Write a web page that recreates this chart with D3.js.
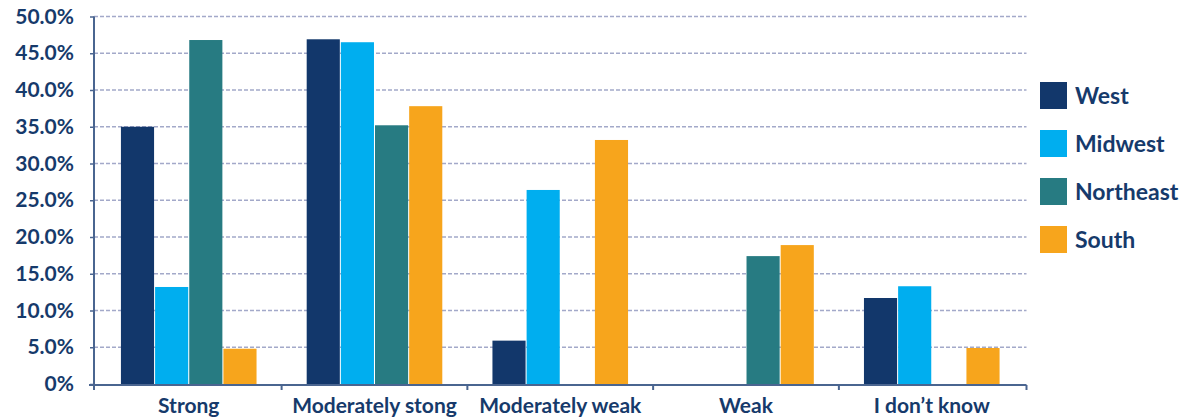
<!DOCTYPE html>
<html>
<head>
<meta charset="utf-8">
<script src="https://cdn.jsdelivr.net/npm/d3@7"></script>
<style>
  body { margin: 0; background: #fff; }
  svg { display: block; font-family: 'Lato', sans-serif; font-weight: 700; }
</style>
</head>
<body>
<div id="chart"></div>
<script>
// values, percent
const categories = ["Strong", "Moderately stong", "Moderately weak", "Weak", "I don\u2019t know"];
const regions = ["West", "Midwest", "Northeast", "South"];
const west      = [35.0, 46.9, 5.9, null, 11.7];
const midwest   = [13.2, 46.5, 26.4, null, 13.3];
const northeast = [46.8, 35.2, null, 17.4, null];
const south     = [4.8, 37.8, 33.2, 18.9, 4.9];
const yTicks = [0, 5, 10, 15, 20, 25, 30, 35, 40, 45, 50];
const colors = ["#12376b", "#00aeef", "#277b82", "#f7a51c"];

const series = [west, midwest, northeast, south];
const data = categories.map((c, i) => ({
  cat: c,
  vals: regions.map((r, j) => ({ region: r, value: series[j][i] }))
}));

const width = 1185, height = 417;
const plot = { left: 94, right: 1026.5, top: 16.5, bottom: 384 };
const navy = "#163a6b";
const axisCol = "#4a6590";

const svg = d3.select("#chart").append("svg")
  .attr("width", width)
  .attr("height", height);

const y = d3.scaleLinear().domain([0, 50]).range([plot.bottom, plot.top]);

const x0 = d3.scaleBand()
  .domain(categories)
  .range([plot.left, plot.right])
  .paddingInner(0.27)
  .paddingOuter(0.145);

const x1 = d3.scaleBand()
  .domain(regions)
  .range([0, x0.bandwidth()])
  .paddingInner(0.03);

const color = d3.scaleOrdinal().domain(regions).range(colors);

// gridlines
svg.append("g")
  .selectAll("line")
  .data(yTicks.filter(d => d > 0))
  .join("line")
  .attr("x1", plot.left)
  .attr("x2", plot.right)
  .attr("y1", d => y(d))
  .attr("y2", d => y(d))
  .attr("stroke", "#a3a9c9")
  .attr("stroke-width", 1.6)
  .attr("stroke-dasharray", "4,2");

// bars
svg.append("g")
  .selectAll("g")
  .data(data)
  .join("g")
  .attr("transform", d => `translate(${x0(d.cat)},0)`)
  .selectAll("rect")
  .data(d => d.vals.filter(v => v.value != null))
  .join("rect")
  .attr("x", d => x1(d.region))
  .attr("y", d => y(d.value))
  .attr("width", x1.bandwidth())
  .attr("height", d => y(0) - y(d.value))
  .attr("fill", d => color(d.region));

// y axis
const yAxis = svg.append("g")
  .attr("transform", `translate(${plot.left},0)`)
  .call(d3.axisLeft(y).tickValues(yTicks).tickSize(4).tickPadding(16)
    .tickFormat(d => d === 0 ? "0%" : d.toFixed(1) + "%"));
yAxis.select(".domain").remove();
yAxis.selectAll(".tick line").attr("stroke", axisCol).attr("stroke-width", 1.5);
yAxis.selectAll("text")
  .attr("fill", navy)
  .attr("font-size", 21)
  .attr("font-family", "Lato, sans-serif")
  .attr("font-weight", 700);
yAxis.append("line")
  .attr("x1", 0).attr("x2", 0)
  .attr("y1", plot.top).attr("y2", plot.bottom + 6)
  .attr("stroke", axisCol).attr("stroke-width", 2);

// x axis
const xAxis = svg.append("g");
xAxis.append("line")
  .attr("x1", plot.left - 5).attr("x2", plot.right)
  .attr("y1", plot.bottom + 1).attr("y2", plot.bottom + 1)
  .attr("stroke", axisCol).attr("stroke-width", 2);
const bounds = categories.map(c => x0(c) - x0.step() * x0.paddingInner() / 2)
  .concat([plot.right]);
xAxis.selectAll("line.tick")
  .data(bounds.slice(1))
  .join("line")
  .attr("class", "tick")
  .attr("x1", d => d).attr("x2", d => d)
  .attr("y1", plot.bottom + 1).attr("y2", plot.bottom + 6)
  .attr("stroke", axisCol).attr("stroke-width", 2);
xAxis.selectAll("text")
  .data(categories)
  .join("text")
  .attr("x", d => x0(d) + x0.bandwidth() / 2)
  .attr("y", 413)
  .attr("text-anchor", "middle")
  .attr("fill", navy)
  .attr("font-size", 21)
  .text(d => d);

// legend
const legend = svg.append("g")
  .attr("transform", "translate(1040,82)")
  .selectAll("g")
  .data(regions)
  .join("g")
  .attr("transform", (d, i) => `translate(0,${i * 48})`);
legend.append("rect")
  .attr("width", 27)
  .attr("height", 27)
  .attr("fill", d => color(d));
legend.append("text")
  .attr("x", 35)
  .attr("y", 22)
  .attr("fill", navy)
  .attr("font-size", 23)
  .text(d => d);
</script>
</body>
</html>
